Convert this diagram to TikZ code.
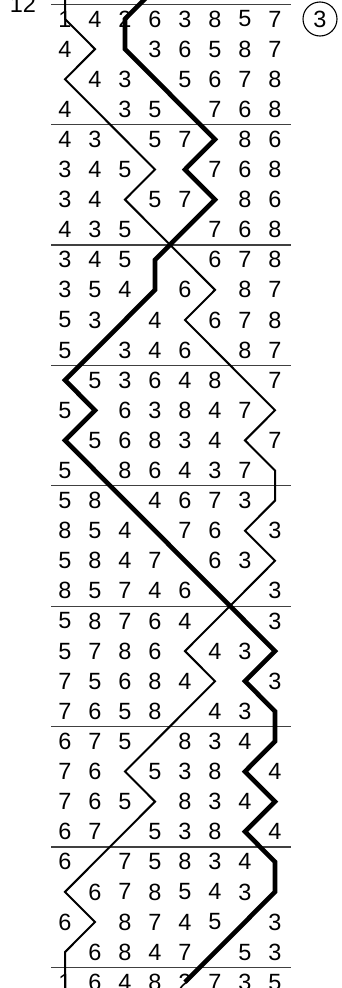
\documentclass[tikz,border=0pt]{standalone}
\usepackage{fontspec}
\setmainfont{Liberation Sans}
\begin{document}
\begin{tikzpicture}[x=1pt,y=-1pt,
  dig/.style={inner sep=0pt, font=\fontsize{23.5}{23.5}\selectfont},
  rulestyle/.style={line width=1.2pt, draw=black!75},
  thinpath/.style={line width=2pt, line join=miter},
  thickpath/.style={line width=4.6pt, line join=miter}]
\clip (0,0) rectangle (342,988);
\foreach \r in {0,...,34} \foreach \c in {1,...,8}
  \coordinate (g-\r-\c) at ({65+30*(\c-1)},{19+30.1*(\r-1)});
% horizontal rules
\foreach \k in {0,...,8}
  \draw[rulestyle] (51,{4.2+120.4*\k}) -- (291,{4.2+120.4*\k});
% thin path
\draw[thinpath] (g-0-1) -- (g-1-1) -- (g-2-2) -- (g-3-1) -- (g-6-4) -- (g-7-3)
  -- (g-10-6) -- (g-11-5) -- (g-14-8) -- (g-15-7) -- (g-16-8) -- (g-17-8)
  -- (g-18-7) -- (g-19-8) -- (g-22-5) -- (g-23-6) -- (g-26-3) -- (g-27-4)
  -- (g-30-1) -- (g-31-2) -- (g-32-1) -- (g-34-1);
% thick path
\draw[thickpath] (g-0-4) -- (g-1-3) -- (g-2-3) -- (g-5-6) -- (g-6-5) -- (g-7-6)
  -- (g-9-4) -- (g-10-4) -- (g-13-1) -- (g-14-2) -- (g-15-1) -- (g-22-8)
  -- (g-23-7) -- (g-24-8) -- (g-25-8) -- (g-26-7) -- (g-27-8) -- (g-28-7)
  -- (g-29-8) -- (g-30-8) -- (g-33-5);
% digits
\foreach \r/\digits in {
  1/{1,4,2,6,3,8,5,7}, 2/{4,0,0,3,6,5,8,7}, 3/{0,4,3,0,5,6,7,8}, 4/{4,0,3,5,0,7,6,8},
  5/{4,3,0,5,7,0,8,6}, 6/{3,4,5,0,0,7,6,8}, 7/{3,4,0,5,7,0,8,6}, 8/{4,3,5,0,0,7,6,8},
  9/{3,4,5,0,0,6,7,8}, 10/{3,5,4,0,6,0,8,7}, 11/{5,3,0,4,0,6,7,8}, 12/{5,0,3,4,6,0,8,7},
  13/{0,5,3,6,4,8,0,7}, 14/{5,0,6,3,8,4,7,0}, 15/{0,5,6,8,3,4,0,7}, 16/{5,0,8,6,4,3,7,0},
  17/{5,8,0,4,6,7,3,0}, 18/{8,5,4,0,7,6,0,3}, 19/{5,8,4,7,0,6,3,0}, 20/{8,5,7,4,6,0,0,3},
  21/{5,8,7,6,4,0,0,3}, 22/{5,7,8,6,0,4,3,0}, 23/{7,5,6,8,4,0,0,3}, 24/{7,6,5,8,0,4,3,0},
  25/{6,7,5,0,8,3,4,0}, 26/{7,6,0,5,3,8,0,4}, 27/{7,6,5,0,8,3,4,0}, 28/{6,7,0,5,3,8,0,4},
  29/{6,0,7,5,8,3,4,0}, 30/{0,6,7,8,5,4,3,0}, 31/{6,0,8,7,4,5,0,3}, 32/{0,6,8,4,7,0,5,3},
  33/{1,6,4,8,2,7,3,5}}
{
  \foreach \d [count=\c] in \digits {
    \ifnum\d=0\relax\else \node[dig] (n-\r-\c) at (g-\r-\c) {\d};\fi
  }
}
\node[dig, draw, circle, line width=1.1pt, minimum size=34pt] (circ) at (320,19) {3};
\node[dig, anchor=base] (lab) at (23,12) {12};
\end{tikzpicture}
\end{document}
